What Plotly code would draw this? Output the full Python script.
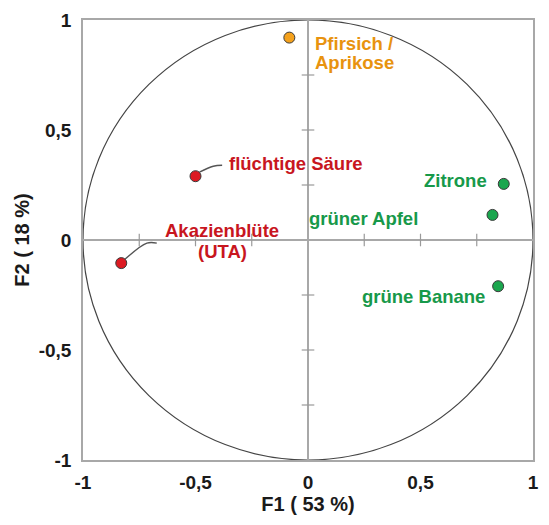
import plotly.graph_objects as go

# Data
labels = ["Pfirsich /<br>Aprikose", "flüchtige Säure", "Akazienblüte<br>(UTA)",
          "Zitrone", "grüner Apfel", "grüne Banane"]
f1 = [-0.083, -0.50, -0.83, 0.87, 0.82, 0.845]
f2 = [0.92, 0.29, -0.105, 0.255, 0.114, -0.21]
groups = ["orange", "red", "red", "green", "green", "green"]
tick_vals = [-1, -0.5, 0, 0.5, 1]
tick_text = ["-1", "-0,5", "0", "0,5", "1"]
minor_ticks = [-0.75, -0.5, -0.25, 0.25, 0.5, 0.75]

marker_col = {"orange": "#f4a11c", "red": "#dc1a22", "green": "#1ba64e"}
text_col = {"orange": "#e8930f", "red": "#c8161e", "green": "#17994a"}

# label placement: anchor, xshift, and yshift per line (pixels from point)
lab_pos = [
    ("left", 24, [-6, -25]),
    ("left", 31, [13]),
    ("center", 101, [33, 12]),
    ("right", -15, [3]),
    ("right", -73, [-4]),
    ("right", -11, [-10]),
]

# leader line pixel offsets from point (x right, y down)
leader_px = {1: [(4, -4), (18, -10), (27, -11)],
             2: [(4, -4), (26, -20), (36, -20)]}

W, H = 549, 525
ML, MR, MT, MB = 83, 10, 20, 65
px_x = (W - ML - MR) / 2.0
px_y = (H - MT - MB) / 2.0

font_main = "Liberation Sans, Arial, sans-serif"

fig = go.Figure()

# minor tick crosses on the zero lines
fig.add_trace(go.Scatter(x=minor_ticks, y=[0] * len(minor_ticks), mode="markers",
                         marker=dict(symbol="line-ns-open", size=9, color="#9a9a9a",
                                     line=dict(color="#9a9a9a", width=1.2)),
                         hoverinfo="skip", showlegend=False))
fig.add_trace(go.Scatter(x=[0] * len(minor_ticks), y=minor_ticks, mode="markers",
                         marker=dict(symbol="line-ew-open", size=9, color="#9a9a9a",
                                     line=dict(color="#9a9a9a", width=1.2)),
                         hoverinfo="skip", showlegend=False))

# leader lines
for idx, offs in leader_px.items():
    lx = [f1[idx] + dx / px_x for dx, dy in offs]
    ly = [f2[idx] - dy / px_y for dx, dy in offs]
    fig.add_trace(go.Scatter(x=lx, y=ly, mode="lines",
                             line=dict(color="#555555", width=1.4, shape="spline"),
                             hoverinfo="skip", showlegend=False))

fig.add_trace(go.Scatter(
    x=f1, y=f2, mode="markers",
    marker=dict(size=11, color=[marker_col[g] for g in groups],
                line=dict(color="#3a3a3a", width=1)),
    showlegend=False))

annotations = []
for x, y, t, g, (anc, xs, yss) in zip(f1, f2, labels, groups, lab_pos):
    for line, ys in zip(t.split("<br>"), yss):
        annotations.append(dict(x=x, y=y, text=line, showarrow=False,
                                xanchor=anc, yanchor="middle", xshift=xs, yshift=ys,
                                font=dict(family=font_main, size=18.5, color=text_col[g],
                                          weight="bold")))

fig.update_layout(
    width=W, height=H,
    margin=dict(l=ML, r=MR, t=MT, b=MB),
    paper_bgcolor="white", plot_bgcolor="white",
    annotations=annotations,
    shapes=[dict(type="circle", xref="x", yref="y", x0=-1, y0=-1, x1=1, y1=1,
                 line=dict(color="#444444", width=1.2), layer="below")],
    font=dict(family=font_main),
)
fig.update_xaxes(range=[-1, 1], tickvals=tick_vals, ticktext=tick_text,
                 showgrid=False, zeroline=True, zerolinecolor="#a8a8a8", zerolinewidth=1.5,
                 showline=True, linecolor="#a8a8a8", linewidth=1.5, mirror=True,
                 ticks="", ticklabelstandoff=4,
                 tickfont=dict(size=19, color="#1a1a1a", weight="bold"),
                 title=dict(text="F1 ( 53 %)", standoff=4,
                            font=dict(size=20, color="#1a1a1a", weight="bold")))
fig.update_yaxes(range=[-1, 1], tickvals=tick_vals, ticktext=tick_text,
                 showgrid=False, zeroline=True, zerolinecolor="#a8a8a8", zerolinewidth=1.5,
                 showline=True, linecolor="#a8a8a8", linewidth=1.5, mirror=True,
                 ticks="", ticklabelstandoff=6,
                 tickfont=dict(size=19, color="#1a1a1a", weight="bold"),
                 title=dict(text="F2 ( 18 %)", standoff=4,
                            font=dict(size=20, color="#1a1a1a", weight="bold")))

fig.write_html("out.html")
